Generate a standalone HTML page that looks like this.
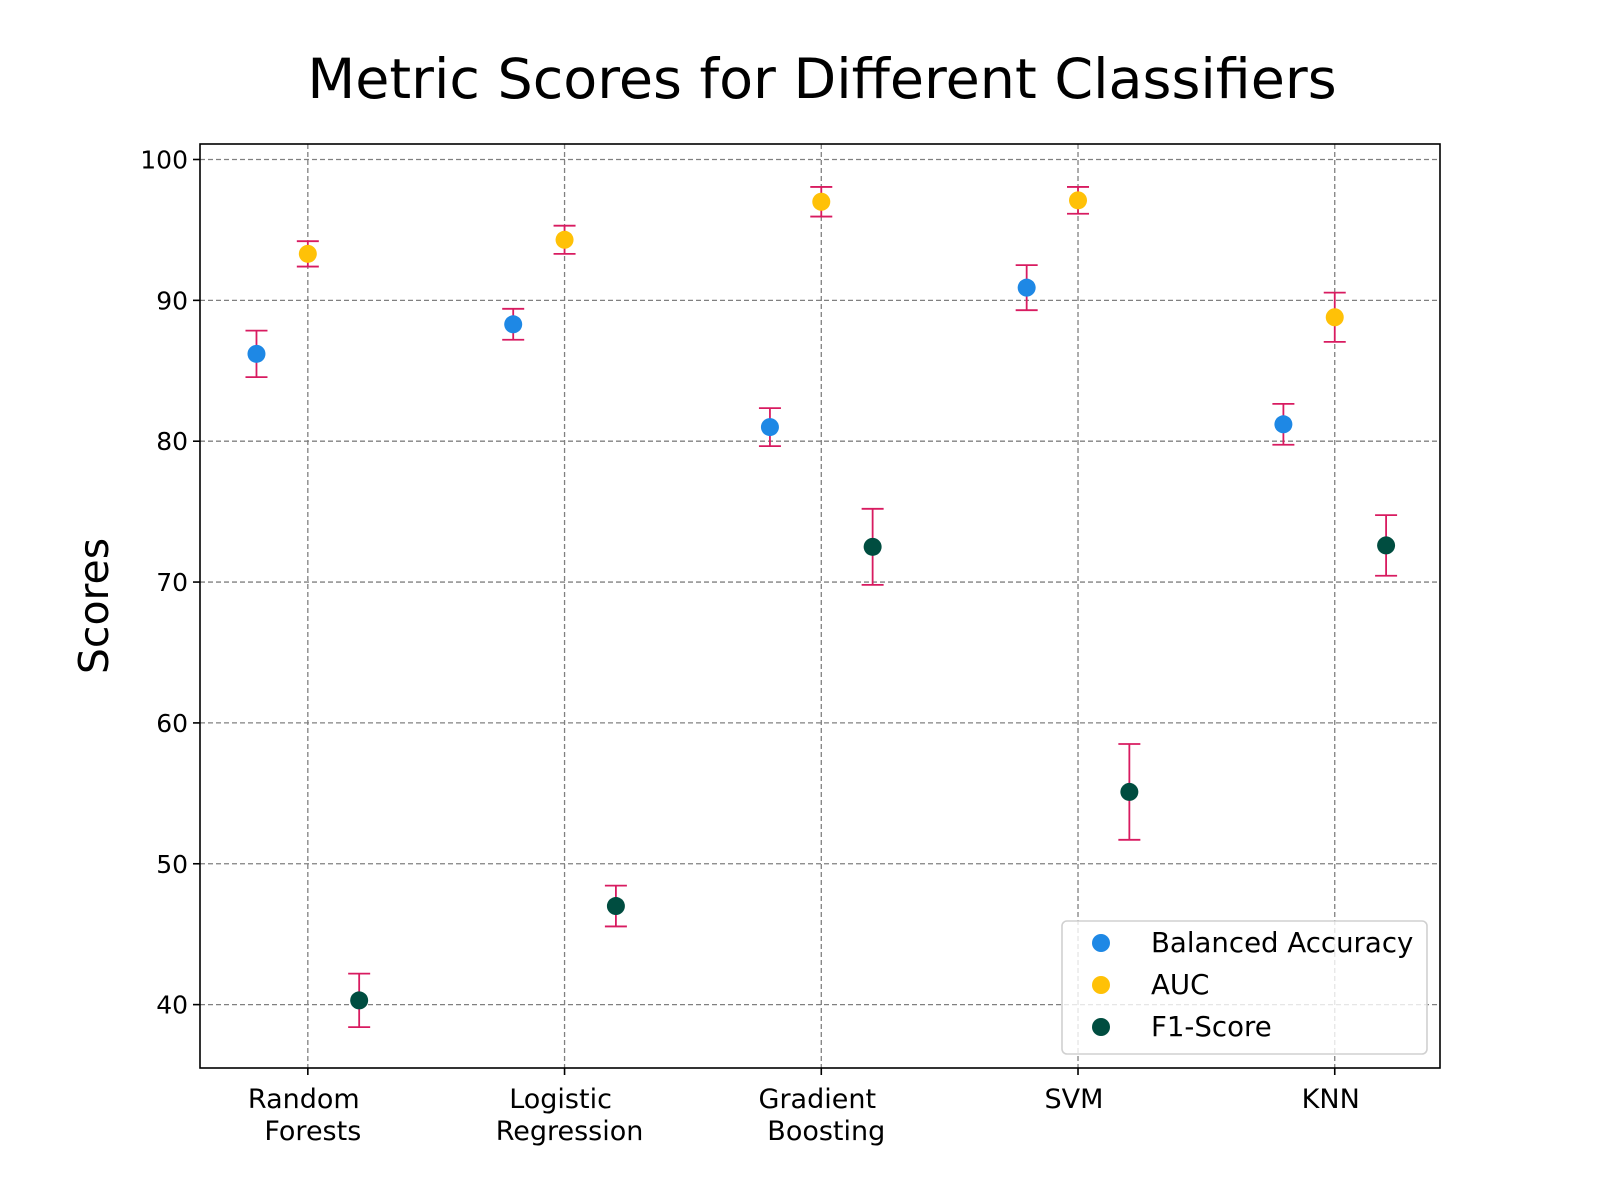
<!DOCTYPE html>
<html><head><meta charset="utf-8"><style>body{margin:0;background:#fff}svg{display:block;font-family:"DejaVu Sans","Liberation Sans",sans-serif}</style></head>
<body>
<svg id="chart" width="1600" height="1200" viewBox="0 0 1600 1200"></svg>
<script>
const categories = ["Random\nForests","Logistic\nRegression","Gradient\nBoosting","SVM","KNN"];
const seriesNames = ["Balanced Accuracy","AUC","F1-Score"];
const balancedAcc = [86.2, 88.3, 81.0, 90.9, 81.2];
const balancedErr = [1.65, 1.1, 1.35, 1.6, 1.45];
const aucVals = [93.3, 94.3, 97.0, 97.1, 88.8];
const aucErr = [0.9, 1.0, 1.05, 0.95, 1.75];
const f1Vals = [40.3, 47.0, 72.5, 55.1, 72.6];
const f1Err = [1.9, 1.45, 2.7, 3.4, 2.15];
const yTicks = [40, 50, 60, 70, 80, 90, 100];

const NS = "http://www.w3.org/2000/svg";
const svg = document.getElementById('chart');
const L=200,R=1440,T=144,B=1068;
const xMin=-0.42,xMax=4.41,yMin=35.5,yMax=101.1;
const xs=v=>L+(v-xMin)/(xMax-xMin)*(R-L);
const ys=v=>B-(v-yMin)/(yMax-yMin)*(B-T);
function mk(tag,attrs,parent){const e=document.createElementNS(NS,tag);for(const k in attrs)e.setAttribute(k,attrs[k]);(parent||svg).appendChild(e);return e;}

const title=mk('text',{x:822,y:98,'text-anchor':'middle','font-size':55.5,fill:'#000'});


title.textContent='Metric Scores for Different Classifiers';

const grid=mk('g',{});


yTicks.forEach(t=>{
  const y=ys(t);
  mk('line',{x1:L,x2:R,y1:y,y2:y,stroke:'#808080','stroke-width':1.3,'stroke-dasharray':'5,3'},grid);
  mk('line',{x1:L-7,x2:L,y1:y,y2:y,stroke:'#000','stroke-width':1.6});
  const tx=mk('text',{x:L-12,y:y+9,'text-anchor':'end','font-size':25});
  
  
  tx.textContent=t;
});
categories.forEach((c,i)=>{
  const x=xs(i);
  mk('line',{x1:x,x2:x,y1:T,y2:B,stroke:'#808080','stroke-width':1.3,'stroke-dasharray':'5,3'},grid);
  mk('line',{x1:x,x2:x,y1:B,y2:B+7,stroke:'#000','stroke-width':1.6});
  const tx=mk('text',{x:x,y:B+40,'text-anchor':'middle','font-size':27});
  
  
  c.split('\n').forEach((ln,j)=>{const ts=mk('tspan',{x:x+(j?5:-4),dy:j?32:0},tx);ts.textContent=ln;});
});

const yl=mk('text',{x:0,y:0,transform:'translate(108,'+((T+B)/2)+') rotate(-90)','text-anchor':'middle','font-size':41});


yl.textContent='Scores';

const series=[[balancedAcc,balancedErr,'#1e88e5',-0.2],[aucVals,aucErr,'#ffc107',0],[f1Vals,f1Err,'#004d40',0.2]];
series.forEach(([vals,errs,col,off],s)=>{
  const g=mk('g',{});
  
  
  vals.forEach((v,i)=>{
    const x=xs(i+off),y1=ys(v-errs[i]),y2=ys(v+errs[i]);
    mk('line',{x1:x,x2:x,y1:y1,y2:y2,stroke:'#d81b60','stroke-width':1.8},g);
    mk('line',{x1:x-11,x2:x+11,y1:y1,y2:y1,stroke:'#d81b60','stroke-width':1.8},g);
    mk('line',{x1:x-11,x2:x+11,y1:y2,y2:y2,stroke:'#d81b60','stroke-width':1.8},g);
    const c=mk('circle',{cx:x,cy:ys(v),r:9,fill:col},g);
    
    
  });
});

const frame=mk('rect',{x:L,y:T,width:R-L,height:B-T,fill:'none',stroke:'#000','stroke-width':1.6});



const lg=mk('g',{});


mk('rect',{x:1062,y:921,width:365,height:133,rx:5,fill:'rgba(255,255,255,0.8)',stroke:'#d0d0d0','stroke-width':1.6},lg);
const cols=['#1e88e5','#ffc107','#004d40'];
seriesNames.forEach((n,i)=>{
  const y=943+i*42;
  const le=mk('g',{},lg);
  
  
  mk('circle',{cx:1101,cy:y,r:9,fill:cols[i]},le);
  const t=mk('text',{x:1151,y:y+9,'font-size':27.6},le);
  t.textContent=n;
});
</script>
</body></html>
